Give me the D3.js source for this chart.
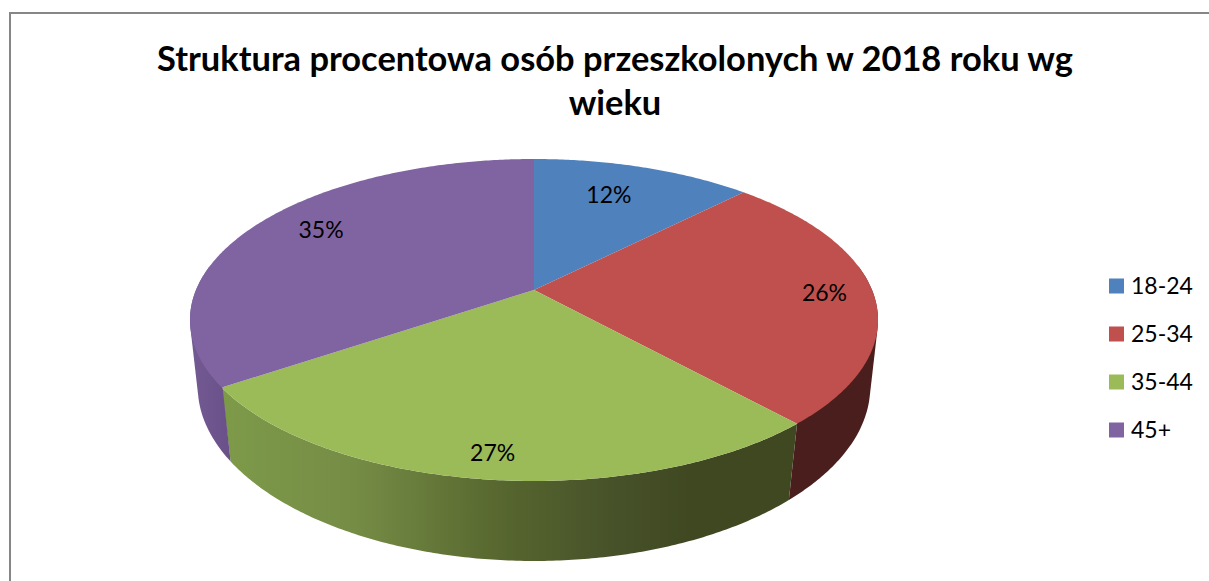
<!DOCTYPE html>
<html><head><meta charset="utf-8">
<style>html,body{margin:0;padding:0;background:#fff;overflow:hidden}svg{display:block}</style>
<script src="https://cdn.jsdelivr.net/npm/d3@7/dist/d3.min.js"></script></head>
<body><svg id="c" width="1209" height="581"></svg>
<script>
const categories = ["18-24","25-34","35-44","45+"];
const values = [12.4,25.9,27.2,34.5];
const labels = ["12%","26%","27%","35%"];
const topColors = ["#4f81bd","#c0504d","#9bbb59","#8064a2"];
const titleLines = ["Struktura procentowa osób przeszkolonych w 2018 roku wg","wieku"];

const svg=d3.select("#c");
svg.append("path").attr("d","M10,581V13H1209").attr("fill","none").attr("stroke","#868686").attr("stroke-width",2);

// perspective mapping of the pie disc
const cx=534,cy=290,A=338,B=155.4,k=-0.1863;
const topPt=(a)=>{const u=Math.sin(a),v=-Math.cos(a),w=1+k*v;return [cx+A*u/w,cy+B*v/w];};
const botPt=(a)=>{const p=topPt(a),v=-Math.cos(a);return [cx+(p[0]-cx)*(0.98-0.015*v),p[1]+80-(481-p[1])*0.065];};
const line=d3.line();
const arcs=d3.pie().sort(null).value(d=>d)(values);
const pts=(a0,a1,f)=>{const n=Math.max(2,Math.ceil(Math.abs(a1-a0)/0.01));return d3.range(n+1).map(i=>f(a0+(a1-a0)*i/n));};

const defs=svg.append("defs");
const gGreen=defs.append("linearGradient").attr("id","sideGreen").attr("gradientUnits","userSpaceOnUse").attr("x1",222).attr("x2",800).attr("y1",0).attr("y2",0);
[[0,"#7d9a49"],[.23,"#758c45"],[.48,"#57672f"],[.69,"#465029"],[.81,"#3f4821"],[1,"#3f4821"]].forEach(s=>gGreen.append("stop").attr("offset",s[0]).attr("stop-color",s[1]));
const gPurple=defs.append("linearGradient").attr("id","sidePurple").attr("gradientUnits","userSpaceOnUse").attr("x1",190).attr("x2",232).attr("y1",0).attr("y2",0);
[[0,"#735a93"],[1,"#6a5088"]].forEach(s=>gPurple.append("stop").attr("offset",s[0]).attr("stop-color",s[1]));
const sideFill=["#3a5a80","#4b1e1e","url(#sideGreen)","url(#sidePurple)"];

// sides: only the near half of the disc; the outer slices take their convex hull,
// which gives the straight silhouette from the top rim down to the lower rim
const aMin=Math.PI*0.45,aMax=Math.PI*1.55;
arcs.forEach((d,i)=>{
  const a0=Math.max(d.startAngle,aMin),a1=Math.min(d.endAngle,aMax);
  if(a1<=a0) return;
  const t=pts(a0,a1,topPt),b=pts(a0,a1,botPt).reverse();
  const outer=d.startAngle<aMin+1e-9&&d.endAngle>aMin||d.endAngle>aMax;
  const poly=outer?d3.polygonHull(t.concat(b)):t.concat(b);
  svg.append("path").attr("d",line(poly)+"Z").attr("fill",sideFill[i]);
});
// top face
arcs.forEach((d,i)=>{
  const p=[[cx,cy]].concat(pts(d.startAngle,d.endAngle,topPt));
  svg.append("path").attr("d",line(p)+"Z").attr("fill",topColors[i]);
});
const font="Lato, Carlito, sans-serif";
// value labels
const labelFx=[0.684,0.856,0.837,0.775], labelFy=[0.783,0.6,0.857,0.912];
arcs.forEach((d,i)=>{
  const m=(d.startAngle+d.endAngle)/2,p=topPt(m);
  svg.append("text").attr("x",cx+(p[0]-cx)*labelFx[i]).attr("y",cy+(p[1]-cy)*labelFy[i]).attr("text-anchor","middle").attr("dominant-baseline","central").attr("font-family",font).attr("font-size",23).attr("fill","#000").text(labels[i]);
});
// title
titleLines.forEach((t,i)=>svg.append("text").attr("x",615).attr("y",71+i*44).attr("text-anchor","middle").attr("font-family",font).attr("font-weight",700).attr("font-size",34.45).attr("fill","#000").text(t));
// legend
const ly=d3.scalePoint().domain(categories).range([286,430]);
categories.forEach((c,i)=>{
  svg.append("rect").attr("x",1109).attr("y",ly(c)-7.5).attr("width",15).attr("height",15).attr("fill",topColors[i]);
  svg.append("text").attr("x",1131).attr("y",ly(c)+8).attr("font-family",font).attr("font-size",23).attr("fill","#000").text(c);
});
</script></body></html>
